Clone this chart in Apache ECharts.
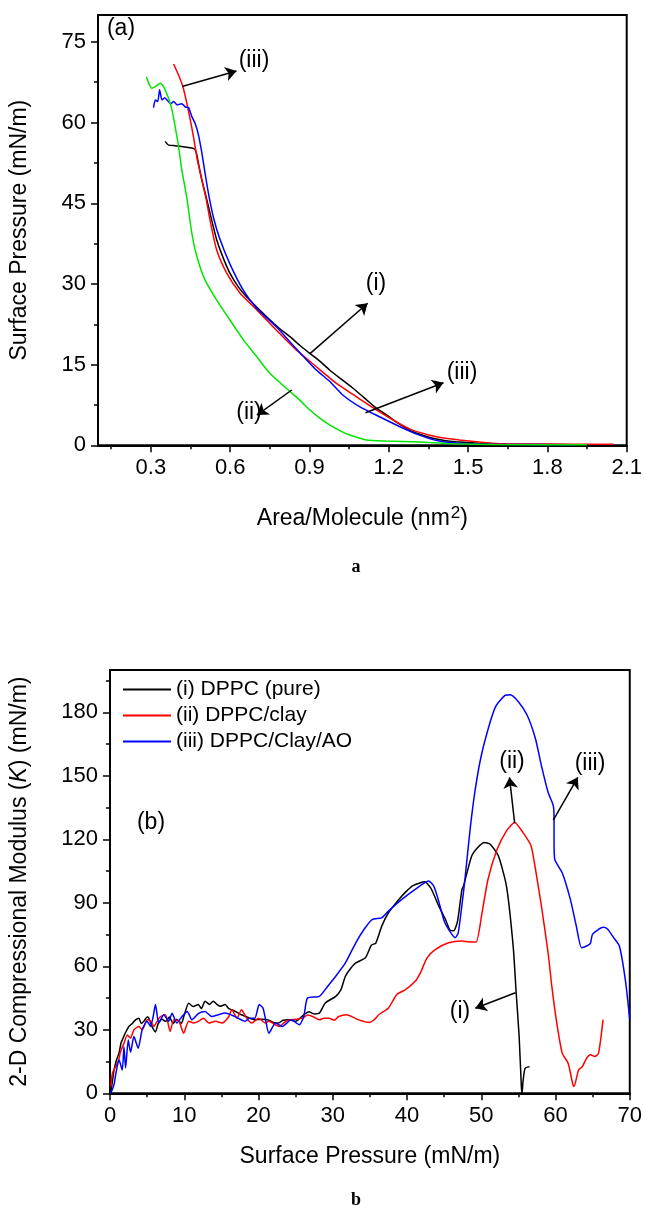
<!DOCTYPE html>
<html>
<head>
<meta charset="utf-8">
<script src="https://cdn.jsdelivr.net/npm/echarts@6/dist/echarts.min.js"></script>
<style>
html, body { margin: 0; padding: 0; background: #fff; }
#chart { width: 645px; height: 1208px; }
</style>
</head>
<body>
<div id="chart"></div>
<script>
// ---------- panel (a): isotherms, [area (nm2), pressure (mN/m)] ----------
const aXLabels = [0.3, 0.6, 0.9, 1.2, 1.5, 1.8, 2.1];
const aXMinor = [0.15, 0.45, 0.75, 1.05, 1.35, 1.65, 1.95];
const aYLabels = [0, 15, 30, 45, 60, 75];
const aYMinor = [7.5, 22.5, 37.5, 52.5, 67.5];

const aBlack = [[0.354,56.5],[0.367,55.8],[0.392,55.7],[0.436,55.4],[0.461,55.2],[0.471,54.6],[0.480,52.4],[0.493,49.3],[0.509,46.2],[0.524,43.1],[0.549,38.2],[0.574,34.8],[0.599,32.0],[0.630,29.5],[0.662,27.6],[0.700,25.7],[0.738,23.9],[0.780,22.0],[0.826,20.2],[0.863,18.6],[0.901,17.1],[0.940,15.6],[0.976,14.0],[1.020,12.3],[1.060,10.8],[1.115,8.5],[1.150,7.0],[1.190,5.7],[1.235,4.1],[1.278,2.8],[1.320,2.0],[1.366,1.3],[1.410,0.9],[1.454,0.67],[1.542,0.4],[1.65,0.2],[1.80,0.1]];
const aRed = [[0.386,70.9],[0.405,68.8],[0.421,66.7],[0.436,63.6],[0.449,60.5],[0.461,57.4],[0.476,53.0],[0.493,49.3],[0.509,45.8],[0.524,41.8],[0.549,36.3],[0.587,32.0],[0.637,28.3],[0.700,25.2],[0.775,21.4],[0.851,17.7],[0.926,14.6],[1.002,11.5],[1.066,9.4],[1.115,7.8],[1.159,6.4],[1.220,4.6],[1.280,3.0],[1.344,2.0],[1.400,1.4],[1.466,1.0],[1.542,0.6],[1.617,0.3],[1.75,0.25],[1.90,0.2],[2.05,0.2]];
const aBlue = [[0.310,62.8],[0.317,64.2],[0.326,63.9],[0.333,66.1],[0.342,64.2],[0.352,64.6],[0.361,64.2],[0.375,63.5],[0.386,63.9],[0.400,63.3],[0.417,63.5],[0.430,62.9],[0.442,62.8],[0.455,61.1],[0.467,59.9],[0.480,57.7],[0.493,54.3],[0.505,50.6],[0.518,46.8],[0.536,42.5],[0.560,38.5],[0.601,33.5],[0.650,28.8],[0.700,25.5],[0.775,22.0],[0.851,17.9],[0.926,14.0],[0.976,11.9],[1.027,9.3],[1.089,7.2],[1.165,5.3],[1.240,3.5],[1.316,1.9],[1.391,0.8],[1.466,0.4],[1.60,0.2],[1.90,0.1]];
const aGreen = [[0.283,68.5],[0.292,67.3],[0.304,66.4],[0.317,66.7],[0.336,67.3],[0.348,66.7],[0.367,64.5],[0.380,62.3],[0.392,59.2],[0.405,55.5],[0.417,51.2],[0.436,46.0],[0.455,39.4],[0.474,35.1],[0.505,30.7],[0.549,27.0],[0.599,23.3],[0.650,19.6],[0.700,16.5],[0.750,13.4],[0.826,10.0],[0.863,8.4],[0.901,6.6],[0.940,5.0],[0.976,3.8],[1.020,2.6],[1.052,1.9],[1.115,1.0],[1.190,0.8],[1.316,0.6],[1.44,0.3],[1.60,0.15],[1.95,0.1]];

// arrows of panel (a), [from, to] in data units
const aArrows = [
  [[0.418, 66.7], [0.624, 69.6]],
  [[0.903, 17.1], [1.120, 26.4]],
  [[1.112, 6.06], [1.407, 11.64]],
  [[0.833, 10.28], [0.701, 5.63]]
];

// ---------- panel (b): compressional modulus, [pressure, K] ----------
const bXLabels = [0, 10, 20, 30, 40, 50, 60, 70];
const bXMinor = [5, 15, 25, 35, 45, 55, 65];
const bYLabels = [0, 30, 60, 90, 120, 150, 180];
const bYMinor = [15, 45, 75, 105, 135, 165, 195];
const bNames = ['(i) DPPC (pure)', '(ii) DPPC/clay', '(iii) DPPC/Clay/AO'];

const bBlack = [[0.1,0],[0.3,5],[0.54,11],[0.9,16],[1.21,19],[1.5,24],[1.65,25.2],[2.0,28],[2.55,31.6],[3.0,33],[3.44,34.7],[3.89,35.5],[4.2,33],[4.56,34],[5.0,36],[5.23,35.5],[5.6,32],[6.12,29],[6.5,33],[7.0,35],[7.5,34],[8.0,36],[8.5,33],[9.0,35],[9.6,33],[10.0,37],[10.6,42.6],[11.2,41],[11.9,41.9],[12.3,40],[12.8,43.5],[13.4,42],[13.9,43.5],[14.4,42],[14.8,41.1],[15.5,41.9],[16.0,40],[16.4,39.5],[17.0,38.5],[17.7,37.1],[18.5,36],[19.5,34.7],[20.4,35],[21.3,34.7],[22.0,33.5],[22.7,33.2],[23.3,34.5],[24.0,34.7],[25.0,34],[26.1,37.1],[26.8,38.5],[27.5,37.5],[28.2,37.9],[29.0,42.7],[30.4,45.8],[31.1,49],[31.7,55.3],[32.4,59],[33.1,61.6],[34.4,64],[35.2,70],[35.8,71],[36.6,79],[37.5,85.3],[38.9,91.6],[39.9,95.4],[40.7,97.9],[41.8,99.5],[42.4,99.9],[43.2,97],[44.3,88.3],[45.2,82],[45.8,77],[46.3,76.8],[46.8,81.2],[47.4,96.4],[47.6,97.8],[48.7,112],[49.5,116],[50.4,118.5],[51.2,117.7],[52.3,112.2],[53.4,97.8],[54.3,69.4],[54.7,47.6],[55.1,27],[55.4,3.2],[55.5,0],[55.6,4.7],[55.9,11.8],[56.5,12.6]];
const bRed = [[0.1,3.2],[0.33,9.5],[0.76,12.6],[1.1,15],[1.43,19.7],[1.88,23.7],[2.33,27.6],[2.77,26.1],[3.22,30],[3.89,31.6],[4.33,30],[5.0,34.7],[5.45,34],[5.9,31.6],[6.35,34],[6.8,36.3],[7.47,37.1],[8.1,29.2],[8.6,34.7],[9.3,34],[9.9,28.4],[10.6,34],[11.3,33.2],[11.9,34],[12.6,35.5],[13.3,33.2],[14.2,34],[15.1,33.2],[16.0,36.3],[16.4,39.5],[17.1,35.5],[17.7,39.5],[18.4,35.5],[19.1,33.2],[20.0,35.5],[20.9,33.2],[21.4,34],[22.2,32.5],[22.8,31.6],[23.5,33.5],[24.1,34.7],[25.0,35],[25.9,35.5],[26.6,37],[27.3,36.3],[28.2,34.7],[28.8,35.5],[29.5,35.5],[30.2,34.5],[30.8,36.3],[31.9,37.1],[32.7,36],[33.5,34.7],[34.9,33.5],[35.5,34.5],[36.2,37.1],[37.5,40.3],[38.6,46.6],[39.8,49],[41.1,52.9],[41.8,56.9],[42.7,64],[43.8,67.9],[45.6,71.1],[47.4,71.9],[48.4,71.5],[49.3,71.5],[50.1,85.2],[50.9,101],[52.1,115],[53.4,124],[54.5,128],[55.6,123.3],[56.7,117],[57.3,105.9],[58.1,88.5],[59.0,66.4],[59.5,50.6],[60.1,34.8],[60.9,19],[61.7,14.2],[62.3,4.7],[62.5,3.2],[63.1,11],[63.6,12.6],[64.2,16.6],[64.7,18.2],[65.3,17.4],[65.8,19],[66.4,34.8]];
const bBlue = [[0.1,0],[0.54,4],[0.76,8.7],[1.21,15.8],[1.65,11],[1.88,22],[2.1,12],[2.46,25.2],[2.77,19.4],[3.22,26.8],[3.8,21.3],[4.33,30],[5.0,34],[5.45,31.6],[5.8,36],[6.12,41.9],[6.57,33.2],[7.24,37.1],[7.9,34],[8.36,37.8],[9.0,33.2],[9.7,36.3],[10.4,38.7],[11.04,34.7],[11.93,37.8],[12.8,38.7],[13.7,36.3],[14.6,37.1],[15.5,37.9],[16.8,36.3],[18.2,34],[18.8,35.5],[19.5,35.5],[20.1,41.9],[20.6,40.3],[21.0,34],[21.4,28.4],[22.3,33.2],[23.2,31.6],[24.4,34.7],[25.5,32.4],[26.1,36.3],[26.6,45],[28.2,45.8],[29.3,50.5],[30.4,55.3],[31.7,61.6],[33.1,71.1],[34.2,77.4],[35.3,82.1],[36.6,82.9],[37.5,86.1],[39.3,91.6],[41.1,96.4],[42.9,100.3],[43.6,97.9],[44.2,91.6],[45.1,80.6],[46.5,73.5],[46.9,75.8],[47.6,94.8],[47.8,101],[48.5,124.8],[49.2,143.8],[50.0,159.5],[51.2,175.4],[52.0,183.2],[53.2,188],[53.9,188.3],[55.0,185],[56.2,178.5],[57.3,167.5],[58.1,154.8],[59.0,142.2],[59.7,135.9],[59.8,129.5],[59.8,120],[59.9,110.5],[60.9,104.2],[62.0,91.6],[62.8,79],[63.5,68.8],[64.2,69.6],[64.7,70.8],[65.0,75.2],[66.4,78.4],[67.0,77.6],[67.8,73.7],[68.6,69.6],[69.4,53.7],[70.0,34.8]];

const bArrows = [
  [[54.5, 127.6], [53.8, 149.3]],
  [[59.7, 129.1], [63.0, 149.3]],
  [[54.6, 47.5], [49.2, 40.2]]
];

const FONT = 'Liberation Sans, Arial, sans-serif';

function mainX(grid, min, max, labels, name, gap, rich) {
  return {
    gridIndex: grid, type: 'value', min: min, max: max, position: 'bottom',
    axisLine: { lineStyle: { color: '#000', width: 2 } },
    axisTick: { length: 7, customValues: labels, lineStyle: { color: '#000', width: 1.5 } },
    axisLabel: { customValues: labels, margin: 12, fontSize: 22, color: '#000', fontFamily: FONT },
    splitLine: { show: false },
    name: name, nameLocation: 'middle', nameGap: gap,
    nameTextStyle: { fontSize: 23, color: '#000', fontFamily: FONT, rich: rich }
  };
}
function mainY(grid, min, max, labels, name, gap, rich) {
  return {
    gridIndex: grid, type: 'value', min: min, max: max, position: 'left',
    axisLine: { lineStyle: { color: '#000', width: 2 } },
    axisTick: { length: 7, customValues: labels, lineStyle: { color: '#000', width: 1.5 } },
    axisLabel: { customValues: labels, margin: 12, fontSize: 22, color: '#000', fontFamily: FONT },
    splitLine: { show: false },
    name: name, nameLocation: 'middle', nameGap: gap,
    nameTextStyle: { fontSize: 23, color: '#000', fontFamily: FONT, rich: rich }
  };
}
function minorAxis(grid, min, max, ticks, pos) {
  return {
    gridIndex: grid, type: 'value', min: min, max: max, position: pos,
    axisLine: { show: false },
    axisTick: { length: 4, customValues: ticks, lineStyle: { color: '#000', width: 1.5 } },
    axisLabel: { show: false },
    splitLine: { show: false }
  };
}
function curve(data, color, xi, yi, name) {
  return {
    type: 'line', name: name, xAxisIndex: xi, yAxisIndex: yi, data: data,
    showSymbol: false, symbol: 'none', smooth: 0.2,
    lineStyle: { color: color, width: 1.5 }, itemStyle: { color: color }
  };
}
function arrows(list) {
  return {
    silent: true, symbol: ['none', 'arrow'], symbolSize: 11,
    label: { show: false },
    lineStyle: { color: '#000', width: 1.5, type: 'solid' },
    data: list.map(a => [{ coord: a[0] }, { coord: a[1] }])
  };
}
function txt(x, y, s, size) {
  return { type: 'text', x: x, y: y, style: { text: s, fontSize: size || 23, fontFamily: FONT, fill: '#000', align: 'center', verticalAlign: 'middle' } };
}

// superscript 2 raised above the cap line, italic K
const supRich = { sup: { fontSize: 17, verticalAlign: 'bottom', padding: [0, 0, 10, 1], color: '#000', fontFamily: FONT } };
const itRich = { it: { fontSize: 23, fontStyle: 'italic', color: '#000', fontFamily: FONT } };

const aBlackS = curve(aBlack, '#000', 0, 0, 'a-i');
aBlackS.markLine = arrows(aArrows);
const bBlackS = curve(bBlack, '#000', 2, 2, bNames[0]);
bBlackS.markLine = arrows(bArrows);

const chart = echarts.init(document.getElementById('chart'));
chart.setOption({
  animation: false,
  backgroundColor: '#fff',
  grid: [
    { left: 97.5, top: 15, width: 531, height: 430.3, show: true, borderColor: '#000', borderWidth: 2 },
    { left: 110, top: 670, width: 522, height: 423.3, show: true, borderColor: '#000', borderWidth: 2 }
  ],
  xAxis: [
    mainX(0, 0.1, 2.1, aXLabels, 'Area/Molecule (nm{sup|2})', 60, supRich),
    minorAxis(0, 0.1, 2.1, aXMinor, 'bottom'),
    mainX(1, 0, 70, bXLabels, 'Surface Pressure (mN/m)', 52),
    minorAxis(1, 0, 70, bXMinor, 'bottom')
  ],
  yAxis: [
    mainY(0, 0, 80, aYLabels, 'Surface Pressure (mN/m)', 67),
    minorAxis(0, 0, 80, aYMinor, 'left'),
    mainY(1, 0, 200, bYLabels, '2-D Compressional Modulus ({it|K}) (mN/m)', 79, itRich),
    minorAxis(1, 0, 200, bYMinor, 'left')
  ],
  legend: {
    data: bNames, orient: 'vertical', left: 123, top: 679, padding: 0,
    itemWidth: 48, itemHeight: 2, itemGap: 5, icon: 'rect', selectedMode: false,
    textStyle: { fontSize: 21, color: '#000', fontFamily: FONT }
  },
  series: [
    aBlackS,
    curve(aRed, '#ff0000', 0, 0, 'a-iii-red'),
    curve(aBlue, '#0000ff', 0, 0, 'a-iii-blue'),
    curve(aGreen, '#00e600', 0, 0, 'a-ii'),
    bBlackS,
    curve(bRed, '#ff0000', 2, 2, bNames[1]),
    curve(bBlue, '#0000ff', 2, 2, bNames[2])
  ],
  graphic: [
    txt(121, 29, '(a)'),
    txt(254, 61, '(iii)'),
    txt(376, 284, '(i)'),
    txt(462, 373, '(iii)'),
    txt(249, 413, '(ii)'),
    txt(151, 823, '(b)'),
    txt(512, 762, '(ii)'),
    txt(590, 764, '(iii)'),
    txt(460, 1012, '(i)'),
    { type: 'text', x: 356, y: 567, style: { text: 'a', fontSize: 18, fontWeight: 'bold', fontFamily: 'Liberation Serif, serif', fill: '#000', align: 'center', verticalAlign: 'middle' } },
    { type: 'text', x: 356, y: 1200, style: { text: 'b', fontSize: 18, fontWeight: 'bold', fontFamily: 'Liberation Serif, serif', fill: '#000', align: 'center', verticalAlign: 'middle' } }
  ]
});
</script>
</body>
</html>
